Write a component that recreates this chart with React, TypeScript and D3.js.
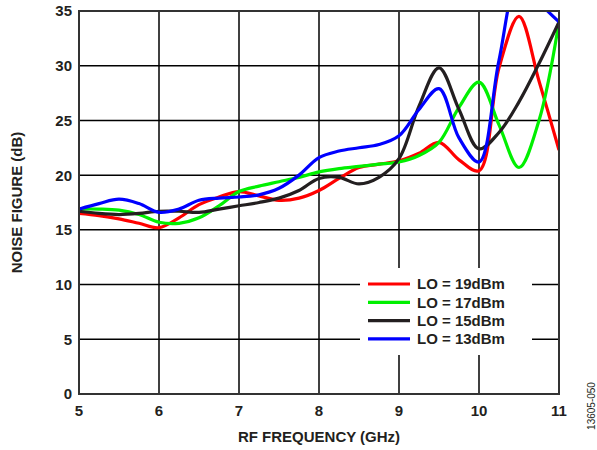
import React from "react";
import * as d3 from "d3";

const freqs = [5, 5.25, 5.5, 5.75, 6, 6.25, 6.5, 6.75, 7, 7.25, 7.5, 7.75, 8, 8.25, 8.5, 8.75, 9, 9.25, 9.5, 9.75, 10, 10.25, 10.5, 10.75, 11];
const lo19 = [16.5, 16.3, 16.0, 15.6, 15.2, 16.1, 17.3, 18.0, 18.5, 18.1, 17.7, 17.9, 18.6, 19.7, 20.7, 21.0, 21.3, 22.0, 23.0, 21.4, 20.4, 29.8, 34.5, 28.6, 22.3];
const lo17 = [16.9, 16.9, 16.8, 16.4, 15.7, 15.6, 16.1, 17.2, 18.5, 19.0, 19.4, 19.8, 20.3, 20.6, 20.8, 21.0, 21.2, 21.8, 23.0, 26.2, 28.5, 24.6, 20.7, 25.0, 34.0];
const lo15 = [16.7, 16.5, 16.4, 16.5, 16.7, 16.7, 16.6, 16.9, 17.2, 17.5, 17.9, 18.6, 19.7, 19.8, 19.2, 19.8, 21.5, 26.3, 29.8, 26.0, 22.4, 23.9, 26.7, 30.2, 34.0];
const lo13 = [16.9, 17.4, 17.8, 17.4, 16.6, 16.9, 17.7, 17.9, 18.0, 18.2, 18.8, 20.0, 21.6, 22.2, 22.5, 22.8, 23.6, 26.0, 27.9, 23.4, 21.2, 30.5, 38.0, 35.8, 34.0];

const seriesNames = ["LO = 19dBm", "LO = 17dBm", "LO = 15dBm", "LO = 13dBm"];
const seriesColors = ["#ff0000", "#00f000", "#231f20", "#0000ff"];
const seriesValues = [lo19, lo17, lo15, lo13];

const xTicks = [5, 6, 7, 8, 9, 10, 11];
const yTicks = [0, 5, 10, 15, 20, 25, 30, 35];

export default function App() {
  const W = 597, H = 450;
  const left = 79, right = 559, top = 11, bottom = 394;
  const x = d3.scaleLinear().domain([5, 11]).range([left, right]);
  const y = d3.scaleLinear().domain([0, 35]).range([bottom, top]);
  const line = d3.line<number>()
    .x((_, i) => x(freqs[i]))
    .y((d) => y(d))
    .curve(d3.curveCatmullRom.alpha(0.5));
  const font = "Arial, 'Liberation Sans', Helvetica, sans-serif";
  const legX1 = 368, legX2 = 410, legTextX = 417;
  const legY0 = 284, legDy = 18.3;
  const fs = 15;
  return (
    <svg width={W} height={H} style={{ position: "absolute", left: 0, top: 0, background: "#fff" }} fontFamily={font}>
      <defs>
        <clipPath id="plotclip">
          <rect x={left} y={top} width={right - left} height={bottom - top} />
        </clipPath>
      </defs>
      {xTicks.slice(1, -1).map((t) => (
        <line key={"gx" + t} x1={x(t)} x2={x(t)} y1={top} y2={bottom} stroke="#000" strokeWidth={1.5} />
      ))}
      {yTicks.slice(1, -1).map((t) => (
        <line key={"gy" + t} x1={left} x2={right} y1={y(t)} y2={y(t)} stroke="#000" strokeWidth={1.5} />
      ))}
      <rect x={360} y={268} width={172} height={87} fill="#fff" />
      <g clipPath="url(#plotclip)">
        {seriesValues.map((vals, i) => (
          <path key={"s" + i} d={line(vals) || ""} fill="none" stroke={seriesColors[i]} strokeWidth={3.2} strokeLinejoin="round" />
        ))}
      </g>
      <rect x={left} y={top} width={right - left} height={bottom - top} fill="none" stroke="#333" strokeWidth={2} />
      {seriesNames.map((n, i) => (
        <g key={"l" + i}>
          <line x1={legX1} x2={legX2} y1={legY0 + i * legDy} y2={legY0 + i * legDy} stroke={seriesColors[i]} strokeWidth={3.2} />
          <text x={legTextX} y={legY0 + i * legDy} dy="0.36em" fontSize={fs} fontWeight="bold" fill="#231f20">{n}</text>
        </g>
      ))}
      {yTicks.map((t) => (
        <text key={"ty" + t} x={72} y={y(t)} dy="0.36em" textAnchor="end" fontSize={fs} fontWeight="bold" fill="#231f20">{t}</text>
      ))}
      {xTicks.map((t) => (
        <text key={"tx" + t} x={x(t)} y={411} dy="0.36em" textAnchor="middle" fontSize={fs} fontWeight="bold" fill="#231f20">{t}</text>
      ))}
      <text x={319} y={437} dy="0.36em" textAnchor="middle" fontSize={fs} fontWeight="bold" fill="#231f20">RF FREQUENCY (GHz)</text>
      <text transform={`translate(17,${(top + bottom) / 2}) rotate(-90)`} dy="0.36em" textAnchor="middle" fontSize={fs} fontWeight="bold" fill="#231f20">NOISE FIGURE (dB)</text>
      <text transform="translate(591,406) rotate(-90)" dy="0.36em" textAnchor="middle" fontSize={10} fill="#231f20">13605-050</text>
    </svg>
  );
}
